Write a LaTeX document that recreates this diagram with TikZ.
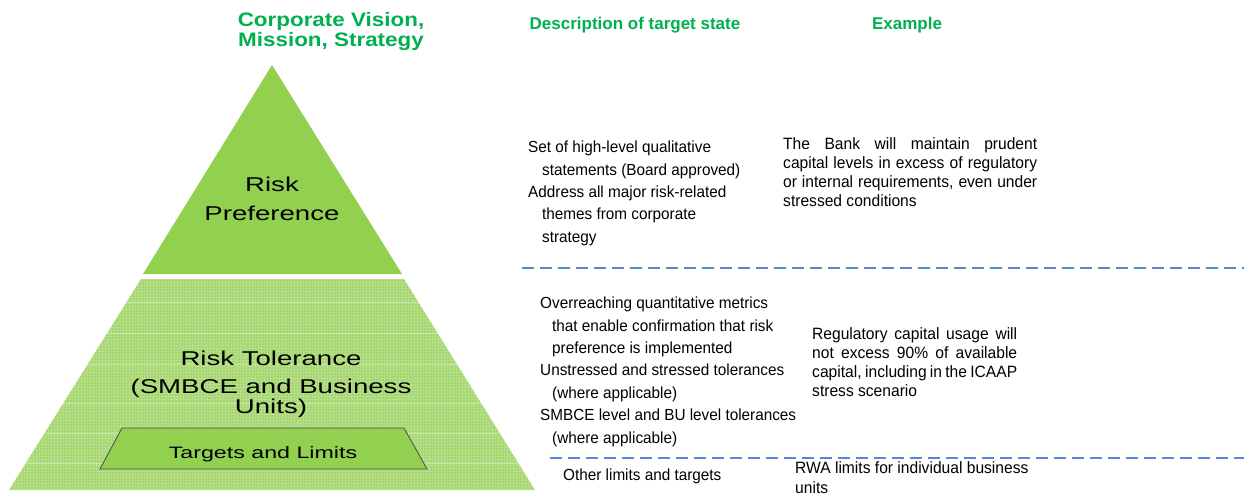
\documentclass[tikz,border=0pt]{standalone}
\usepackage{fontspec}
\setmainfont{Liberation Sans}
\definecolor{hgreen}{HTML}{00B050}
\definecolor{pgreen}{HTML}{92D050}
\definecolor{lgreen}{HTML}{A3D76B}
\definecolor{dblue}{HTML}{5588CC}
\tikzset{
  hdr/.style={text=hgreen, font=\bfseries\fontsize{17}{20}\selectfont, inner sep=0pt},
  pyr/.style={font=\fontsize{20}{24}\selectfont, xscale=1.38, inner sep=0pt},
  desc/.style={anchor=north west, align=left, inner sep=0pt, yscale=1.05, font=\fontsize{15.3}{21.3}\selectfont},
  expl/.style={anchor=north west, align=justify, inner sep=0pt, yscale=1.05, font=\fontsize{15.6}{18.1}\selectfont},
  sep/.style={dblue, line width=2.6pt, dash pattern=on 12pt off 6pt}
}
\begin{document}
\begin{tikzpicture}[x=1pt,y=-1pt]
\useasboundingbox (0,0) rectangle (1244,497);
% pyramid top
\fill[pgreen] (272,65) -- (402,274) -- (143,274) -- cycle;
% pyramid lower trapezoid with texture
\begin{scope}
\clip (141,279) -- (404,279) -- (535,490) -- (9,490) -- cycle;
\fill[lgreen] (0,270) rectangle (540,495);
\draw[white, opacity=0.22, line width=0.4pt, step=3pt] (0,270) grid (540,495);
\foreach \yy in {302,333,364,403,433,463}
  \draw[white, opacity=0.35, line width=0.8pt] (0,\yy) -- (540,\yy);
\end{scope}
% targets and limits
\draw[fill=pgreen, draw=black!70, line width=0.8pt] (122,428) -- (404,428) -- (427,469) -- (100,469) -- cycle;
\node[pyr, font=\fontsize{16.5}{20}\selectfont, xscale=1.02] (tl) at (263,454) {Targets and Limits};
% pyramid labels
\node[pyr] (rp1) at (272,184) {Risk};
\node[pyr] (rp2) at (272,213.5) {Preference};
\node[pyr] (rt1) at (271,358) {Risk Tolerance};
\node[pyr] (rt2) at (271,388) {(SMBCE and Business};
\node[pyr] (rt3) at (271,408) {Units)};
% headers
\node[hdr, align=center, xscale=1.15, font=\bfseries\fontsize{19.5}{20}\selectfont] (h1) at (331,32) {Corporate Vision,\\Mission, Strategy};
\node[hdr] (h2) at (635,25) {Description of target state};
\node[hdr] (h3) at (907,25) {Example};
% dashed separators
\coordinate (d1a) at (522,268);
\coordinate (d1b) at (1244,268);
\coordinate (d2a) at (550,458);
\coordinate (d2b) at (1244,458);
\draw[sep] (d1a) -- (d1b);
\draw[sep] (d2a) -- (d2b);
% description texts
\node[desc] (t1) at (528,141) {Set of high-level qualitative\\\hspace*{14pt}statements (Board approved)\\Address all major risk-related\\\hspace*{14pt}themes from corporate\\\hspace*{14pt}strategy};
\node[desc] (t2) at (540,297) {Overreaching quantitative metrics\\\hspace*{12pt}that enable confirmation that risk\\\hspace*{12pt}preference is implemented\\Unstressed and stressed tolerances\\\hspace*{12pt}(where applicable)\\SMBCE level and BU level tolerances\\\hspace*{12pt}(where applicable)};
\node[desc] (t3) at (563,469) {Other limits and targets};
% example texts
\node[expl, text width=254pt] (e1) at (783,137) {The Bank will maintain prudent\linebreak capital levels in excess of regulatory\linebreak or internal requirements, even under\linebreak stressed conditions};
\node[expl, text width=205pt] (e2) at (812,327) {Regulatory capital usage will\linebreak not excess 90\% of available\linebreak capital, including in the ICAAP\linebreak stress scenario};
\node[desc, font=\fontsize{15.6}{19}\selectfont] (e3) at (795,461) {RWA limits for individual business\\units};
\end{tikzpicture}
\end{document}
